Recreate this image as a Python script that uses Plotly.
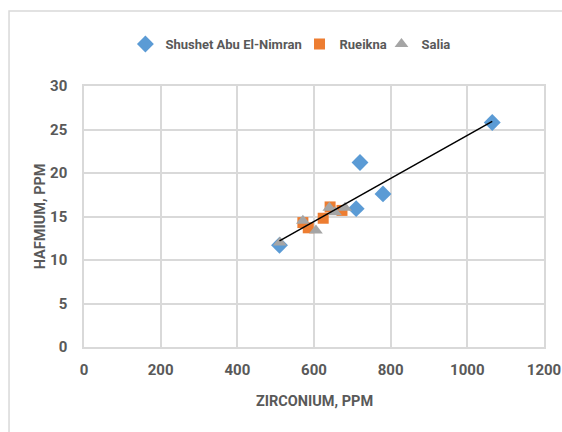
import numpy as np
import plotly.graph_objects as go

# Zirconium / hafnium concentrations (ppm) per locality
shushet_zr = [1065, 720, 780, 710, 510]
shushet_hf = [25.8, 21.2, 17.6, 15.9, 11.7]

rueikna_zr = [571, 585, 624, 642, 673]
rueikna_hf = [14.3, 13.7, 14.8, 16.1, 15.7]

salia_zr = [511, 571, 605, 640, 655, 681]
salia_hf = [12.0, 14.5, 13.4, 16.0, 15.5, 16.0]

x_ticks = [0, 200, 400, 600, 800, 1000, 1200]
y_ticks = [0, 5, 10, 15, 20, 25, 30]

FONT = "Roboto, Open Sans, sans-serif"
TXT = "#595959"
GRID = "#d9d9d9"

fig = go.Figure()
fig.add_trace(go.Scatter(x=shushet_zr, y=shushet_hf, mode="markers",
                         name="Shushet Abu El-Nimran", legend="legend",
                         marker=dict(symbol="diamond", size=13, color="#5B9BD5")))
fig.add_trace(go.Scatter(x=rueikna_zr, y=rueikna_hf, mode="markers",
                         name="Rueikna", legend="legend2",
                         marker=dict(symbol="square", size=11, color="#ED7D31")))
fig.add_trace(go.Scatter(x=salia_zr, y=salia_hf, mode="markers",
                         name="Salia", legend="legend3",
                         marker=dict(symbol="triangle-up", size=12, color="#A5A5A5")))

# Linear trend line over all samples
all_x = np.array(shushet_zr + rueikna_zr + salia_zr, dtype=float)
all_y = np.array(shushet_hf + rueikna_hf + salia_hf, dtype=float)
slope, intercept = np.polyfit(all_x, all_y, 1)
tx = np.array([all_x.min(), all_x.max()])
fig.add_trace(go.Scatter(x=tx, y=slope * tx + intercept, mode="lines",
                         line=dict(color="black", width=1.5),
                         showlegend=False, hoverinfo="skip"))

# Outer chart frame
fig.add_shape(type="rect", xref="paper", yref="paper",
              x0=-0.163, x1=1.2, y0=-0.5, y1=1.287,
              line=dict(color=GRID, width=1.5), layer="below")

tick_font = dict(family=FONT, size=15, color=TXT, weight="bold")
title_font = dict(family=FONT, size=14.5, color=TXT, weight="bold")
legend_font = dict(family=FONT, size=13, color=TXT, weight="bold")


def legend_box(x):
    return dict(orientation="h", x=x, xanchor="left", y=1.161, yanchor="middle",
                font=legend_font, itemwidth=30, bgcolor="rgba(0,0,0,0)")


# Axis titles
fig.add_annotation(text="ZIRCONIUM, PPM", xref="paper", yref="paper",
                   x=0.5, y=-0.208, xanchor="center", yanchor="middle",
                   showarrow=False, font=title_font)
fig.add_annotation(text="HAFMIUM, PPM", xref="paper", yref="paper",
                   x=-0.094, y=0.5, xanchor="center", yanchor="middle",
                   textangle=-90, showarrow=False, font=title_font)

fig.update_layout(
    width=562, height=432,
    margin=dict(l=84, r=18, t=86, b=85),
    paper_bgcolor="white", plot_bgcolor="white",
    font=dict(family=FONT, color=TXT, size=14),
    legend=legend_box(0.090),
    legend2=legend_box(0.4685),
    legend3=legend_box(0.6467),
    xaxis=dict(range=[0, 1200], tickvals=x_ticks, showgrid=True, gridcolor=GRID,
               gridwidth=1.5, zeroline=False, showline=True, linecolor=GRID,
               linewidth=1.5, mirror=True, ticks="", automargin=False,
               ticklabelstandoff=8, tickfont=tick_font),
    yaxis=dict(range=[0, 30], tickvals=y_ticks, showgrid=True, gridcolor=GRID,
               gridwidth=1.5, zeroline=False, showline=True, linecolor=GRID,
               linewidth=1.5, mirror=True, ticks="", automargin=False,
               ticklabelstandoff=12, tickfont=tick_font),
)

fig.write_html("out.html")
